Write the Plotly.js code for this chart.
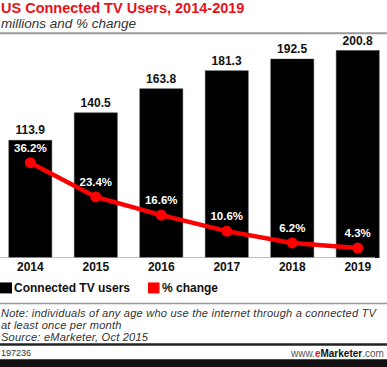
<!DOCTYPE html>
<html><head><meta charset="utf-8">
<script src="https://cdn.plot.ly/plotly-3.0.1.min.js"></script>
<style>html,body{margin:0;padding:0;background:#fff;}#c{width:387px;height:367px;}</style>
</head><body><div id="c"></div>
<script>
const years = ['2014','2015','2016','2017','2018','2019'];
const users = [113.9, 140.5, 163.8, 181.3, 192.5, 200.8];
const pctChange = [36.2, 23.4, 16.6, 10.6, 6.2, 4.3];
const seriesNames = ['Connected TV users', '% change'];
const titleText = 'US Connected TV Users, 2014-2019';
const subtitleText = 'millions and % change';
const noteLines = ['Note: individuals of any age who use the internet through a connected TV', 'at least once per month', 'Source: eMarketer, Oct 2015'];
const chartId = '197236';

const W = 387, H = 367, T = 40, B = 108.5;
const PH = H - T - B;
const py = p => (H - B - p) / PH;
const px = p => p / W;
const FONT = 'Liberation Sans, Arial, sans-serif';
const RED = '#ff0000';

const traces = [
  {type:'bar', x: years, y: users, name: seriesNames[0], marker:{color:'#000', line:{color:'#333', width:0.5}},
   text: users.map(v => v.toFixed(1)), textposition:'outside', cliponaxis:false,
   textfont:{family:FONT, size:12, color:'#111', weight:'bold'}, showlegend:false, hoverinfo:'skip'},
  {type:'scatter', mode:'lines+markers+text', x: years, y: pctChange, yaxis:'y2', name: seriesNames[1],
   line:{color:RED, width:4.5}, marker:{color:RED, size:11},
   text: pctChange.map(v => v.toFixed(1) + '%'), textposition:'top center', cliponaxis:false,
   textfont:{family:FONT, size:11.5, color:'#fff', weight:'bold'}, showlegend:false, hoverinfo:'skip'}
];

const ann = (text, x, y, size, opts) => Object.assign({text, x:px(x), y:py(y), xref:'paper', yref:'paper',
  xanchor:'left', yanchor:'middle', showarrow:false, font:{family:FONT, size, color:'#333'}}, opts||{});
const note = t => '<i><span style="letter-spacing:0.2px">' + t + '</span></i>';

const annotations = [
  ann(titleText, -1, 8, 14.5, {font:{family:FONT, size:14.5, color:'#e8111a', weight:'bold'}}),
  ann('<i>' + subtitleText + '</i>', -1, 23.5, 13.5, {font:{family:FONT, size:13.5, color:'#333'}}),
  ann(seriesNames[0], 12, 289, 12, {font:{family:FONT, size:12, color:'#111', weight:'bold'}}),
  ann(seriesNames[1], 160, 289, 12, {font:{family:FONT, size:12, color:'#111', weight:'bold'}}),
  ann(note(noteLines[0]), -1, 313.5, 11.1),
  ann(note(noteLines[1]), -1, 325.5, 11.1),
  ann(note(noteLines[2]), -1, 337.5, 11.1),
  ann(chartId, -1, 354, 9, {font:{family:FONT, size:9, color:'#333'}}),
  ann('<span style="color:#555">www.</span><b><span style="color:#e8111a">e</span>Marketer</b><span style="color:#555">.com</span>', 386, 354, 10, {xanchor:'right', font:{family:FONT, size:10, color:'#111'}})
];

const shapes = [
  {type:'line', xref:'paper', yref:'paper', x0:0, x1:1, y0:py(33.3), y1:py(33.3), line:{color:'#999', width:2}},
  {type:'line', xref:'paper', yref:'y', x0:0, x1:px(375), y0:0, y1:0, line:{color:'#aaa', width:1.5}},
  {type:'rect', xref:'paper', yref:'paper', x0:px(0), x1:px(12), y0:py(283), y1:py(294), fillcolor:'#000', line:{width:0}},
  {type:'rect', xref:'paper', yref:'paper', x0:px(148), x1:px(159.5), y0:py(283), y1:py(294), fillcolor:RED, line:{width:0}},
  {type:'line', xref:'paper', yref:'paper', x0:0, x1:1, y0:py(304), y1:py(304), line:{color:'#999', width:1.5}},
  {type:'line', xref:'paper', yref:'paper', x0:0, x1:1, y0:py(345.3), y1:py(345.3), line:{color:'#222', width:2.5}},
  {type:'rect', xref:'paper', yref:'paper', x0:0, x1:1, y0:py(360), y1:py(368), fillcolor:'#111', line:{width:0}}
];

const layout = {
  width:W, height:H, margin:{l:0, r:0, t:T, b:B}, paper_bgcolor:'#fff', plot_bgcolor:'#fff',
  showlegend:false, bargap:0.343, barmode:'overlay',
  xaxis:{type:'category', range:[-0.463, 5.447], showgrid:false, zeroline:false, showline:false, ticks:'',
    tickfont:{family:FONT, size:12, color:'#111', weight:'bold'}, fixedrange:true},
  yaxis:{range:[0, 211], visible:false, fixedrange:true},
  yaxis2:{range:[0.56, 82.1], overlaying:'y', visible:false, fixedrange:true},
  annotations, shapes
};
Plotly.newPlot('c', traces, layout, {staticPlot:true, displayModeBar:false});
</script></body></html>
